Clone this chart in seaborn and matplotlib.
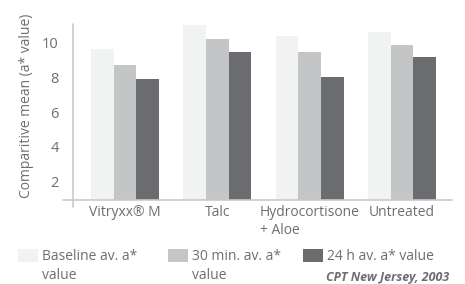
import matplotlib
matplotlib.use("Agg")
import matplotlib.pyplot as plt
import seaborn as sns
import pandas as pd
from matplotlib.lines import Line2D

categories = ["Vitryxx® M", "Talc", "Hydrocortisone\n+ Aloe", "Untreated"]
series_names = ["Baseline av. a*\nvalue", "30 min. av. a*\nvalue", "24 h av. a* value"]
baseline = [9.63, 11.04, 10.41, 10.64]
min30 = [8.72, 10.23, 9.48, 9.88]
h24 = [7.91, 9.48, 8.03, 9.19]
yticks = [2, 4, 6, 8, 10]
colors = ["#f1f2f2", "#c4c5c7", "#6b6c70"]

rows = []
for name, vals in zip(series_names, [baseline, min30, h24]):
    for c, v in zip(categories, vals):
        rows.append({"cat": c, "series": name, "value": v})
df = pd.DataFrame(rows)

sns.set_style("white")
plt.rcParams["font.family"] = ["Open Sans", "DejaVu Sans"]
text_col = "#6d6e71"

fig = plt.figure(figsize=(4.65, 2.84), dpi=100)
ax = fig.add_axes([72.7 / 465, 1 - 199.5 / 284, (452 - 72.7) / 465, (199.5 - 24) / 284])

sns.barplot(data=df, x="cat", y="value", hue="series", palette=colors,
            width=0.737, gap=0, saturation=1, ax=ax, legend=False,
            linewidth=0, edgecolor="none")

ax.set_ylim(0.93, 11.1)
ax.set_xlim(-0.567, 3.54)
ax.set_yticks(yticks)
ax.set_yticklabels([str(t) for t in yticks])
ax.tick_params(axis="both", length=0, colors=text_col, labelsize=10)
ax.tick_params(axis="y", pad=10, labelsize=10.5)
ax.tick_params(axis="x", pad=4)
for lab in ax.get_xticklabels():
    lab.set_multialignment("left")
    lab.set_linespacing(1.3)
ax.set_xlabel("")
ax.set_ylabel("Comparitive mean (a* value)", color=text_col, fontsize=10)
ax.yaxis.set_label_coords(-0.103, 0.535)

for s in ["top", "right", "left", "bottom"]:
    ax.spines[s].set_visible(False)
spine_col = "#c8c9ca"
ax.add_line(Line2D([-0.025, 1.0], [0, 0], transform=ax.transAxes, color=spine_col,
                   lw=1.2, clip_on=False))
ax.add_line(Line2D([0, 0], [-0.045, 1.0], transform=ax.transAxes, color=spine_col,
                   lw=1.2, clip_on=False))

handles = [ax.patches[i * 4] for i in range(3)]
lx = [18, 168, 303]
for h, name, x in zip(handles, series_names, lx):
    leg = fig.legend([h], [name], loc="upper left",
                     bbox_to_anchor=(x / 465, 1 - 249 / 284),
                     frameon=False, fontsize=10, borderpad=0, borderaxespad=0,
                     handlelength=1.44, handleheight=1.08, handletextpad=0.3,
                     labelspacing=0)
    for t in leg.get_texts():
        t.set_color(text_col)
        t.set_linespacing(1.4)
    for col in leg._legend_handle_box.get_children():
        for entry in col.get_children():
            entry.align = "top"

fig.text(449 / 465, 1 - 277 / 284, "CPT New Jersey, 2003", ha="right", va="center",
         fontsize=9, fontstyle="italic", fontweight="bold", color=text_col)

fig.savefig("out.png", dpi=100)
